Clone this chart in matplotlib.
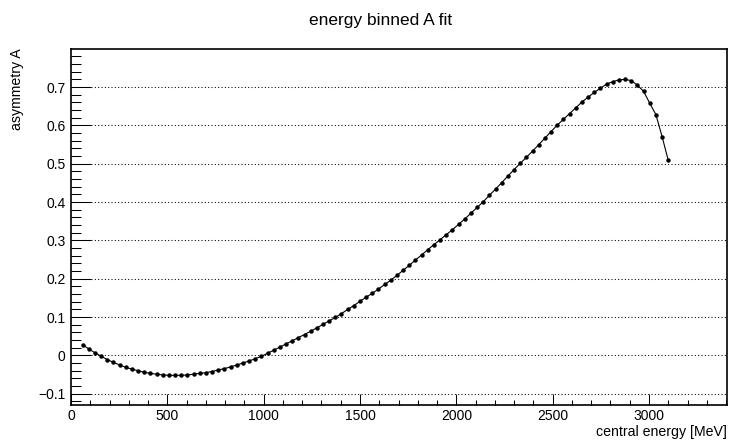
import matplotlib
matplotlib.use("Agg")
import matplotlib.pyplot as plt
from matplotlib.ticker import MultipleLocator

plt.rcParams['font.family'] = ['Liberation Sans', 'DejaVu Sans']

# bin centres of the energy binning [MeV]
energy = [60, 92, 124, 156, 188, 220, 252, 284, 316, 348,
          380, 412, 444, 476, 508, 540, 572, 604, 636, 668,
          700, 732, 764, 796, 828, 860, 892, 924, 956, 988,
          1020, 1052, 1084, 1116, 1148, 1180, 1212, 1244, 1276, 1308,
          1340, 1372, 1404, 1436, 1468, 1500, 1532, 1564, 1596, 1628,
          1660, 1692, 1724, 1756, 1788, 1820, 1852, 1884, 1916, 1948,
          1980, 2012, 2044, 2076, 2108, 2140, 2172, 2204, 2236, 2268,
          2300, 2332, 2364, 2396, 2428, 2460, 2492, 2524, 2556, 2588,
          2620, 2652, 2684, 2716, 2748, 2780, 2812, 2844, 2876, 2908,
          2940, 2972, 3004, 3036, 3068, 3100]

# fitted asymmetry A per bin
asym = [0.028, 0.017, 0.007, -0.002, -0.011, -0.018, -0.025, -0.031, -0.036, -0.040,
        -0.044, -0.047, -0.049, -0.051, -0.052, -0.052, -0.052, -0.051, -0.049, -0.047,
        -0.045, -0.042, -0.038, -0.0345, -0.030, -0.025, -0.020, -0.0145, -0.0087, -0.0024,
        0.0055, 0.0135, 0.0215, 0.030, 0.038, 0.0465, 0.0545, 0.063, 0.072, 0.081,
        0.090, 0.099, 0.109, 0.120, 0.130, 0.141, 0.152, 0.162, 0.173, 0.185,
        0.196, 0.209, 0.222, 0.235, 0.249, 0.262, 0.276, 0.289, 0.302, 0.315,
        0.328, 0.342, 0.356, 0.371, 0.386, 0.401, 0.418, 0.434, 0.451, 0.468,
        0.485, 0.501, 0.517, 0.533, 0.550, 0.567, 0.584, 0.601, 0.616, 0.631,
        0.646, 0.661, 0.674, 0.686, 0.697, 0.708, 0.714, 0.719, 0.720, 0.717,
        0.705, 0.689, 0.658, 0.628, 0.571, 0.509]

fig = plt.figure(figsize=(7.3, 4.41), dpi=100)
ax = fig.add_axes([71 / 730, 1 - 405 / 441, 656 / 730, 356 / 441])

ax.plot(energy, asym, color='black', lw=0.8, marker='o', ms=2.2, zorder=3)

ax.set_xlim(0, 3405)
ax.set_ylim(-0.1294, 0.7994)

ax.xaxis.set_major_locator(MultipleLocator(500))
ax.xaxis.set_minor_locator(MultipleLocator(100))
ax.yaxis.set_major_locator(MultipleLocator(0.1))
ax.yaxis.set_minor_locator(MultipleLocator(0.02))

ax.tick_params(axis='both', which='both', direction='in', top=False, right=False,
               width=0.75, labelsize=10, colors='black')
ax.tick_params(axis='y', which='major', length=14.2, pad=4)
ax.tick_params(axis='y', which='minor', length=7.1)
ax.tick_params(axis='x', which='major', length=7.7, pad=3)
ax.tick_params(axis='x', which='minor', length=3.9)

ax.yaxis.grid(True, which='major', color='black', lw=0.75, linestyle=(0, (1, 2.2)))
ax.set_axisbelow(True)

for sp in ax.spines.values():
    sp.set_linewidth(1.2)

ax.set_yticks([-0.1, 0, 0.1, 0.2, 0.3, 0.4, 0.5, 0.6, 0.7])
ax.set_yticklabels(['\u22120.1', '0', '0.1', '0.2', '0.3', '0.4', '0.5', '0.6', '0.7'])

fig.text(727 / 730, 1 - 432 / 441, 'central energy [MeV]', ha='right', va='center', fontsize=10.2)
fig.text(17 / 730, 1 - 48 / 441, 'asymmetry A', ha='center', va='top', rotation=90, fontsize=10.2)
fig.text(381 / 730, 1 - 20 / 441, 'energy binned A fit', ha='center', va='center', fontsize=12.5)

fig.savefig('out.png', dpi=100)
